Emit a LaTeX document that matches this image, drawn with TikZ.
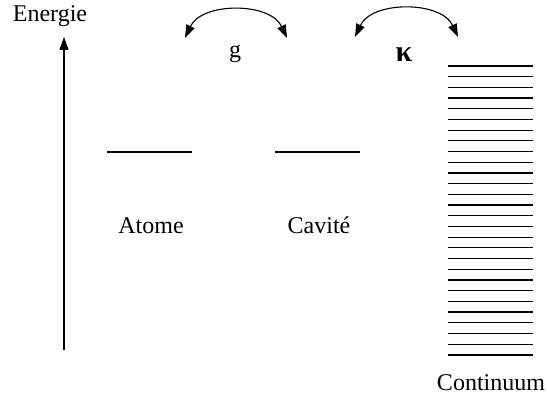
\documentclass[tikz,border=0pt]{standalone}
\usepackage{fontspec}
\setmainfont{Liberation Serif}
\usetikzlibrary{arrows.meta,positioning}

\begin{document}
\begin{tikzpicture}[
    x=1pt, y=1pt,
    txt/.style={font=\fontsize{24}{28}\selectfont, inner sep=0pt, anchor=base},
    niveau/.style={line width=1.2pt},
    arrow/.style={-{Stealth[length=13pt,width=9pt,inset=0pt]}, line width=1.1pt},
    coupling/.style={{Stealth[length=13pt,width=9pt,inset=0pt]}-{Stealth[length=13pt,width=9pt,inset=0pt]}, line width=1.1pt}
]
    \useasboundingbox (0,0) rectangle (547,-409);

    % Axe d'energie
    \coordinate (axisbot) at (64,-350);
    \coordinate (axistop) at (64,-37);
    \node[txt] (energie) at (50,-22) {Energie};
    \draw[arrow] (axisbot) -- (axistop);

    % Niveaux
    \coordinate (atomeL) at (107,-152);
    \coordinate (atomeR) at (192,-152);
    \coordinate (caviteL) at (275,-152);
    \coordinate (caviteR) at (360,-152);
    \draw[niveau] (atomeL) -- (atomeR);
    \draw[niveau] (caviteL) -- (caviteR);
    \node[txt] (atome) at (151,-234) {Atome};
    \node[txt] (cavite) at (319,-234) {Cavité};

    % Continuum
    \foreach \i in {0,...,27}
        \draw[niveau] (448,-66-10.7*\i) -- (533,-66-10.7*\i);
    \node[txt] (continuum) at (491,-390) {Continuum};

    % Couplages
    \coordinate (gL) at (185,-38);
    \coordinate (gR) at (287,-38);
    \coordinate (kL) at (355,-37);
    \coordinate (kR) at (458,-37);
    \draw[coupling] (gL) to[out=65,in=115] (gR);
    \draw[coupling] (kL) to[out=65,in=115] (kR);
    \node[txt] (g) at (235,-58) {g};
    \node[txt, font=\fontsize{30}{34}\selectfont\bfseries] (kappa) at (404,-62) {κ};
\end{tikzpicture}
\end{document}
